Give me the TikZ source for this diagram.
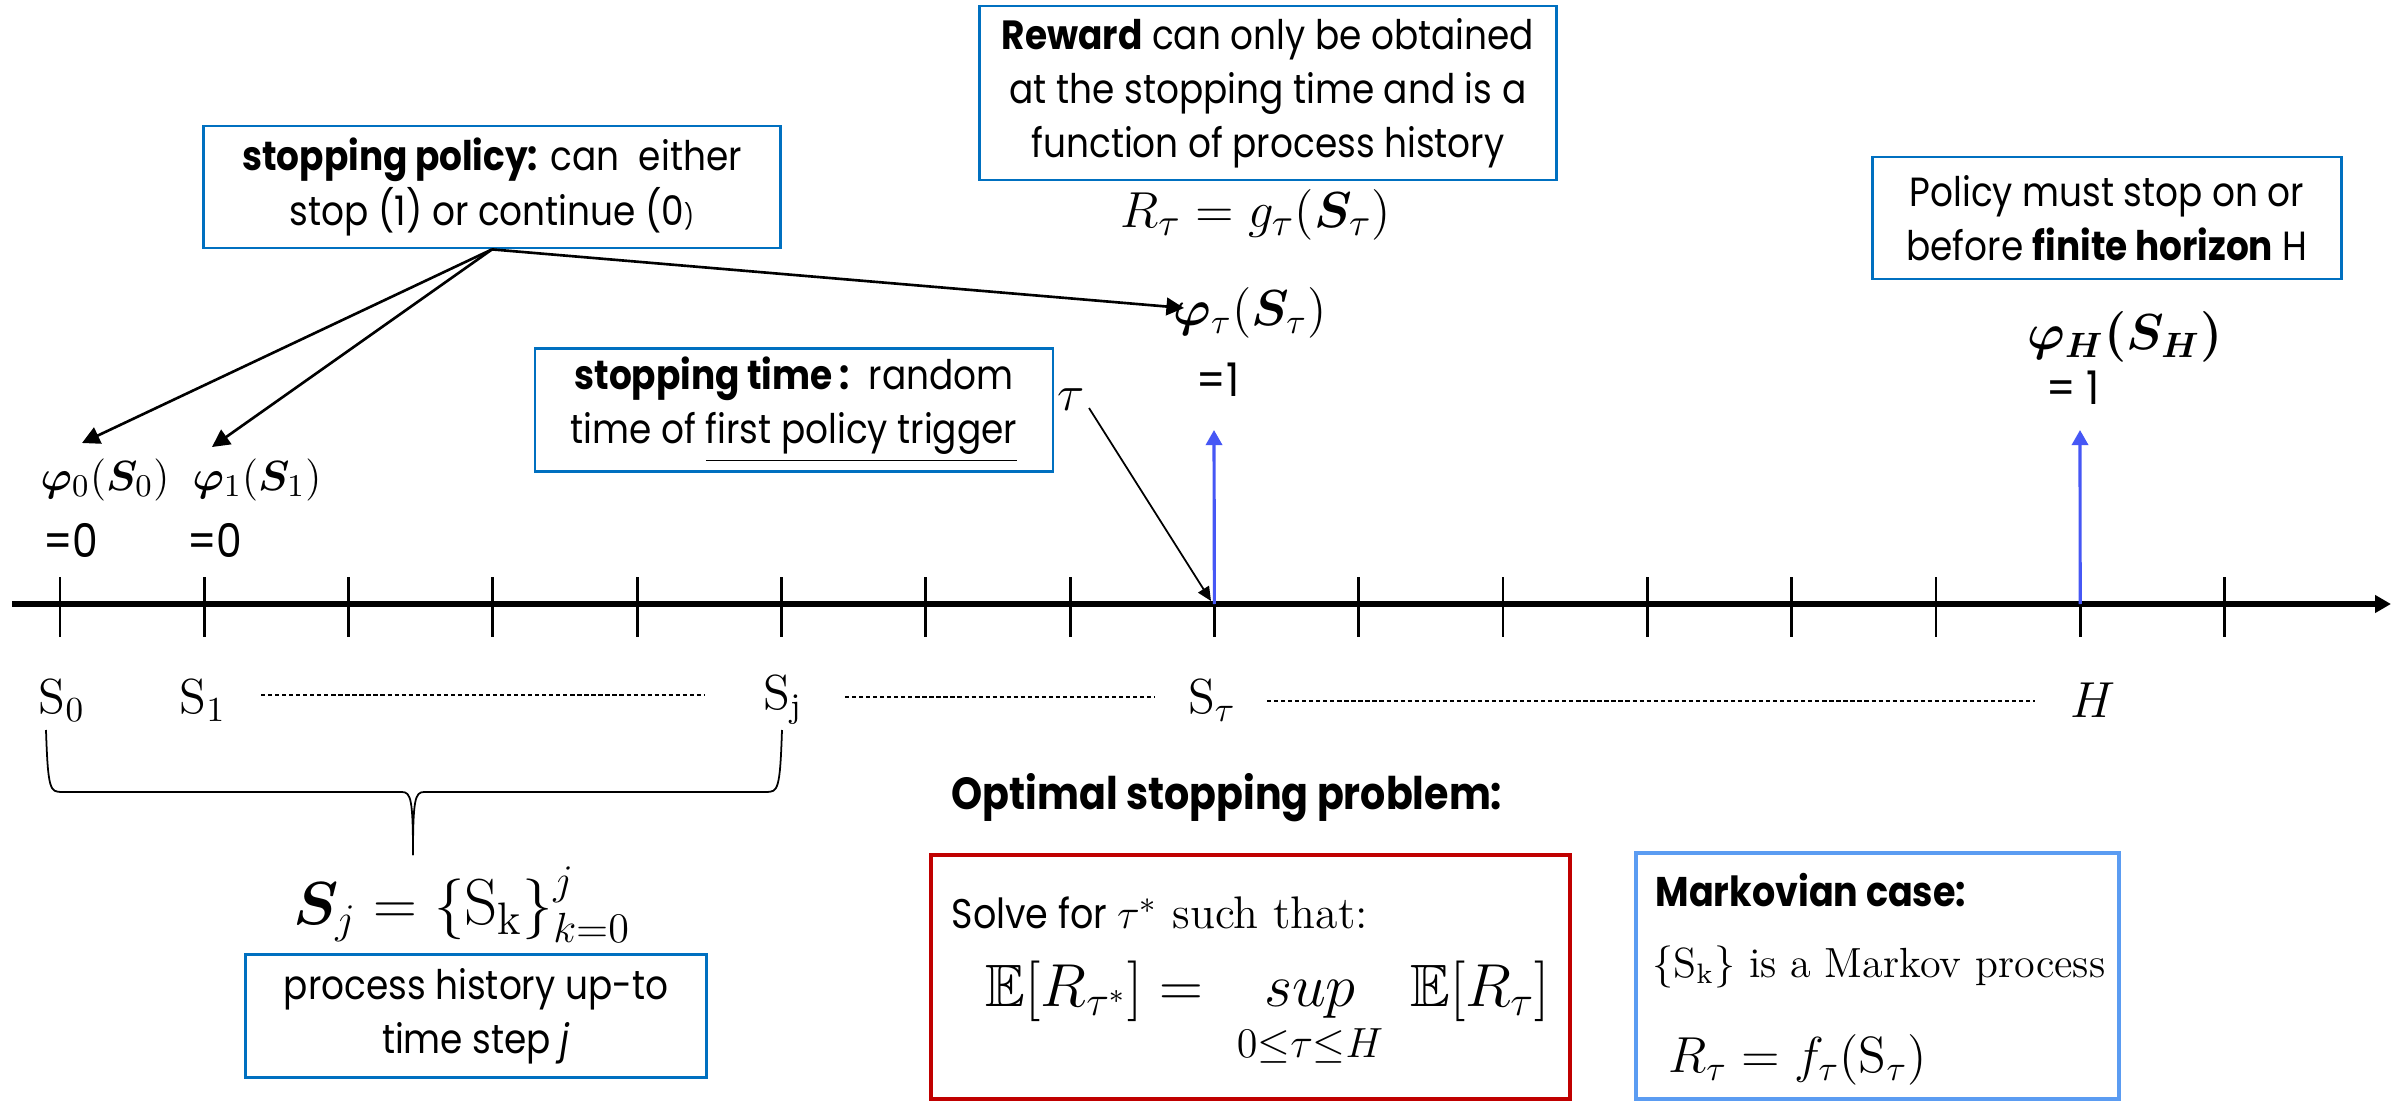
\documentclass[tikz,border=0pt]{standalone}
\usepackage{fontspec}
\usepackage{amsmath,amssymb,bm}
\usetikzlibrary{arrows.meta}
\newfontfamily\pop[FakeStretch=0.88]{Poppins}
\definecolor{boxblue}{HTML}{0070C0}
\definecolor{lblue}{HTML}{5B9CF2}
\definecolor{dred}{HTML}{C00000}
\definecolor{arrblue}{HTML}{4657F5}
\begin{document}
\begin{tikzpicture}[x=0.1mm,y=-0.1mm,
  txt/.style={font=\pop\fontsize{11.6}{15.4}\selectfont, align=center, inner sep=0pt},
  eqtxt/.style={font=\pop\fontsize{13.2}{14}\selectfont, inner sep=0pt},
  bbox/.style={draw=boxblue, line width=0.8pt, inner sep=0pt},
  mlab/.style={font=\fontsize{14}{16}\selectfont, inner sep=0pt},
  ptr/.style={line width=0.75pt, -{Triangle[length=5pt,width=5pt]}},
  bluearr/.style={arrblue, line width=0.9pt, -{Triangle[length=4.3pt,width=4.6pt]}},
  dots/.style={line width=0.45pt, dash pattern=on 1.2pt off 0.8pt},
  tickln/.style={line width=0.8pt}
]
\useasboundingbox (0,0) rectangle (2407,1102);

% axis
\coordinate (a0) at (12,604);
\coordinate (a1) at (2391,604);
\draw[line width=1.7pt, -{Triangle[length=4.5pt,width=4.8pt]}] (a0) -- (a1);
\foreach \i in {0,...,15}{
  \coordinate (t\i) at ({60+144.3*\i},604);
  \draw[tickln] ({60+144.3*\i},577) -- ({60+144.3*\i},637);
}

% boxes on top
\node[bbox, txt, minimum width=57.7mm, minimum height=12.2mm] (pol) at (492,187)
  {\textbf{stopping policy:} can\ \ either\\stop (1) or continue (0{\scriptsize)}};
\node[bbox, txt, minimum width=57.7mm, minimum height=17.4mm] (rew) at (1268,93)
  {\textbf{Reward} can only be obtained\\at the stopping time and is a\\function of process history};
\node[mlab, font=\fontsize{15}{17}\selectfont] (req) at (1256,215) {$R_\tau = g_\tau(\bm{S}_\tau)$};
\node[bbox, txt, minimum width=46.9mm, minimum height=12.2mm] (hor) at (2107,218)
  {Policy must stop on or\\before \textbf{finite horizon} H};
\node[bbox, txt, minimum width=51.8mm, minimum height=12.3mm] (st) at (794,410)
  {\textbf{stopping time\,:}\ \ random\\time of \underline{first policy trigger}};

% policy values
\node[mlab, font=\fontsize{13.2}{16}\selectfont] (p0) at (105,480) {$\bm{\varphi}_0(\bm{S}_0)$};
\node[mlab, font=\fontsize{13.2}{16}\selectfont] (p1) at (257,480) {$\bm{\varphi}_1(\bm{S}_1)$};
\node[eqtxt] (e0) at (71,540) {=0};
\node[eqtxt] (e1) at (215,540) {=0};
\node[mlab] (pt) at (1250,313) {$\bm{\varphi}_\tau(\bm{S}_\tau)$};
\node[eqtxt] (e2) at (1218,380) {=1};
\node[mlab] (pH) at (2125,337) {$\bm{\varphi_H(S_H)}$};
\node[eqtxt] (e3) at (2073,388) {= 1};

% arrows from policy box
\coordinate (p0tip) at (82,443);
\coordinate (p1tip) at (212,447);
\coordinate (pttip) at (1184,308);
\draw[ptr] (pol.south) -- (p0tip);
\draw[ptr] (pol.south) -- (p1tip);
\draw[ptr] (pol.south) -- (pttip);

% blue arrows
\coordinate (bt) at (1214,430);
\coordinate (bH) at (2080,430);
\draw[bluearr] (t8) -- (bt);
\draw[bluearr] (t14) -- (bH);

% tau pointer
\node[mlab] (tau) at (1071,400) {$\tau$};
\coordinate (taus) at (1089,408);
\coordinate (taue) at (1211,601);
\draw[line width=0.5pt, -{Triangle[length=4pt,width=3.6pt]}] (taus) -- (taue);

% labels below axis
\node[mlab] (s0) at (62,700) {$\mathrm{S}_0$};
\node[mlab] (s1) at (203,700) {$\mathrm{S}_1$};
\node[mlab] (sj) at (783,700) {$\mathrm{S}_\mathrm{j}$};
\node[mlab] (stau) at (1212,700) {$\mathrm{S}_\tau$};
\node[mlab] (hH) at (2093,700) {$H$};
\coordinate (d1a) at (261,695); \coordinate (d1b) at (705,695);
\coordinate (d2a) at (845,697); \coordinate (d2b) at (1155,697);
\coordinate (d3a) at (1267,701); \coordinate (d3b) at (2035,701);
\draw[dots] (d1a) -- (d1b);
\draw[dots] (d2a) -- (d2b);
\draw[dots] (d3a) -- (d3b);

% brace
\draw[line width=0.5pt] (46,730) .. controls (48,790) and (50,792) .. (62,792) -- (402,792)
  .. controls (411,792) and (413,800) .. (413,855);
\draw[line width=0.5pt] (782,730) .. controls (780,790) and (778,792) .. (766,792) -- (424,792)
  .. controls (415,792) and (413,800) .. (413,855);

\node[font=\fontsize{18.5}{20}\selectfont, inner sep=0pt] (sjdef) at (462,905)
  {$\bm{S}_j = \{\mathrm{S}_\mathrm{k}\}_{k=0}^{j}$};
\node[bbox, txt, minimum width=46.1mm, minimum height=12.3mm] (hist) at (476,1016)
  {process history up-to\\time step \textit{j}};

% optimal stopping
\node[anchor=west, inner sep=0pt, font=\pop\bfseries\fontsize{12.8}{14}\selectfont] (osp) at (951,798)
  {Optimal stopping problem:};
\node[draw=dred, line width=1.2pt, minimum width=63.9mm, minimum height=24.4mm] (rb) at (1250.5,977) {};
\node[anchor=west, inner sep=0pt, font=\pop\fontsize{11.8}{14}\selectfont] (solve) at (951,913)
  {Solve for {\rmfamily\fontsize{13}{14}\selectfont $\tau^*$ such that:}};
\node[inner sep=0pt, font=\fontsize{17}{20}\selectfont] (form) at (1268,1015)
  {$\mathbb{E}[R_{\tau^*}] = \;\mathop{sup}\limits_{0\le\tau\le H}\; \mathbb{E}[R_\tau]$};

% Markovian
\node[draw=lblue, line width=1.2pt, minimum width=48.3mm, minimum height=24.6mm] (mb) at (1877.5,976) {};
\node[anchor=west, inner sep=0pt, font=\pop\bfseries\fontsize{11.8}{12}\selectfont] (mk) at (1655,890)
  {Markovian case:};
\node[anchor=west, inner sep=0pt, font=\fontsize{12}{15}\selectfont] (mk2) at (1652,967)
  {$\{\mathrm{S}_\mathrm{k}\}$ is a Markov process};
\node[anchor=west, inner sep=0pt, font=\fontsize{14.5}{16}\selectfont] (mk3) at (1668,1060)
  {$R_\tau = f_\tau(\mathrm{S}_\tau)$};
\end{tikzpicture}
\end{document}
